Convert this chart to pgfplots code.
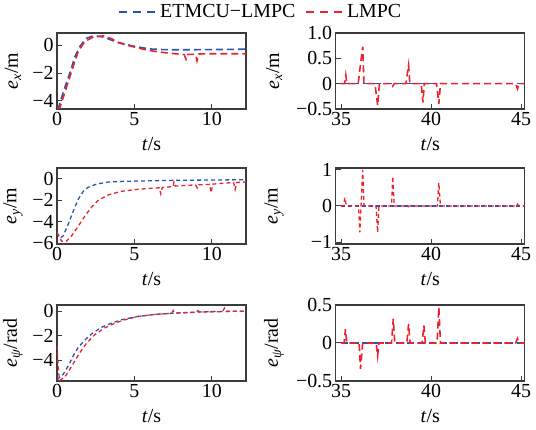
\documentclass[border=0pt]{standalone}
\usepackage{fontspec}
\setmainfont{Liberation Serif}
\usepackage{pgfplots}
\pgfplotsset{compat=1.18}
\definecolor{eblue}{RGB}{40,85,180}
\definecolor{lred}{RGB}{235,35,45}
\definecolor{framec}{RGB}{60,60,60}
\newcommand{\fs}{\rmfamily\fontsize{20}{23}\selectfont}
\pgfplotsset{
 myax/.style={scale only axis, width=189bp, height=76bp, anchor=south west,
   axis line style={framec, line width=1.2bp},
   tick style={framec, line width=1bp},
   tick align=inside, xtick pos=bottom, ytick pos=left, major tick length=5bp,
   tick label style={font=\fs},
   label style={font=\fs},
   xlabel={\textit{t}/s},
   xlabel style={at={(axis description cs:0.5,-0.46)}, anchor=center},
 },
 lcol/.style={ylabel style={at={(axis description cs:-0.233,0.5)}, anchor=center}, xmin=0, xmax=12.2, xtick={0,5,10}, xticklabels={0,5,10}},
 rcol/.style={ylabel style={at={(axis description cs:-0.326,0.5)}, anchor=center}, xmin=34.7, xmax=45.2, xtick={35,40,45}, xticklabels={35,40,45}},
 bl/.style={eblue, line width=1.6bp, dash pattern=on 7bp off 4bp},
 rd/.style={lred, line width=1.6bp, dash pattern=on 7bp off 4bp},
 bls/.style={eblue, line width=1.3bp, dash pattern=on 4bp off 3bp},
 rds/.style={lred, line width=1.3bp, dash pattern=on 4bp off 3bp},
}
\begin{document}
\begin{tikzpicture}
\useasboundingbox (0bp,0bp) rectangle (536bp,430bp);
% top-left
\begin{axis}[myax, lcol, at={(57bp,321bp)}, ymin=-4.6, ymax=0.9,
  ytick={-4,-2,0}, yticklabels={−4,−2,0},
  ylabel={\textit{e}\textsubscript{\textit{x}}/m},
  legend style={at={(axis description cs:1.079,1.276)}, anchor=center, draw=none, fill=none, font=\fs, legend columns=2, /tikz/every even column/.append style={column sep=8bp}},
  legend image code/.code={\draw[#1, dash pattern=on 8bp off 6bp] (0bp,0bp) -- (38bp,0bp);}]
\addplot[bl] coordinates {(0,-4.6) (0.1,-4.5) (0.4,-3.4) (0.83,-2.0) (1.16,-0.8) (1.48,-0.07) (1.9,0.52) (2.33,0.69) (2.87,0.64) (3.3,0.48) (3.73,0.29) (4.3,0.12) (4.8,-0.02) (5.4,-0.15) (6.08,-0.26) (6.8,-0.3) (7.4,-0.31) (8.9,-0.31) (10,-0.3) (12.2,-0.27)};
\addlegendentry{ETMCU−LMPC}
\addplot[rd] coordinates {(0,-4.6) (0.19,-4.5) (0.62,-3.0) (1.05,-1.5) (1.37,-0.43) (1.8,0.29) (2.33,0.6) (3.0,0.69) (3.5,0.5) (3.94,0.21) (4.5,0.02) (5.0,-0.12) (5.6,-0.28) (6.3,-0.43) (7.0,-0.53) (7.6,-0.6) (8.2,-0.65) (8.33,-1.0) (8.45,-0.65) (8.95,-0.65) (9.04,-1.12) (9.15,-0.62) (10,-0.6) (12.2,-0.6)};
\addlegendentry{LMPC}
\end{axis}
% top-right
\begin{axis}[myax, rcol, at={(335.7bp,321bp)}, ymin=-0.5, ymax=1.0,
  ytick={-0.5,0,0.5,1}, yticklabels={−0.5,0,0.5,1.0},
  ylabel={\textit{e}\textsubscript{\textit{x}}/m}]
\addplot[bl] coordinates {(35,0) (45.2,0)};
\addplot[rd] coordinates {(35,0) (35.2,0) (35.26,0.17) (35.33,0) (35.95,0) (36.05,0.3) (36.2,0.73) (36.27,0) (36.88,0) (37.03,-0.43) (37.13,0) (37.8,0) (37.87,-0.05) (37.95,0) (38.6,0) (38.75,0.37) (38.82,0) (39.45,0) (39.55,-0.37) (39.62,0) (40.3,0) (40.43,-0.4) (40.52,0) (44.7,0) (44.8,-0.1) (44.87,0) (45.2,0)};
\end{axis}
% middle-left
\begin{axis}[myax, lcol, at={(57bp,186bp)}, ymin=-6.05, ymax=1.0,
  ytick={-6,-4,-2,0}, yticklabels={−6,−4,−2,0},
  ylabel={\textit{e}\textsubscript{\textit{y}}/m}]
\addplot[bls] coordinates {(0,-5.0) (0.2,-5.5) (0.4,-5.3) (0.73,-4.2) (1.05,-3.0) (1.37,-1.9) (1.7,-1.16) (2.0,-0.8) (2.55,-0.49) (3.3,-0.3) (4.2,-0.24) (5.2,-0.21) (7.4,-0.15) (9.5,-0.12) (12.2,-0.09)};
\addplot[rds] coordinates {(0,-5.0) (0.3,-5.8) (0.6,-5.8) (0.94,-5.3) (1.37,-4.4) (1.8,-3.46) (2.23,-2.63) (2.66,-2.0) (3.3,-1.5) (4.15,-1.16) (5.2,-0.98) (6.3,-0.86) (6.6,-0.84) (6.7,-1.4) (6.8,-0.82) (7.4,-0.73) (7.5,-0.72) (7.55,-0.3) (7.65,-0.68) (8.4,-0.6) (8.95,-0.58) (9.05,-0.85) (9.15,-0.56) (9.85,-0.52) (9.95,-1.3) (10.05,-0.5) (10.6,-0.42) (11.4,-0.35) (11.5,-1.0) (11.6,-0.34) (12.2,-0.3)};
\end{axis}
% middle-right
\begin{axis}[myax, rcol, at={(335.7bp,186bp)}, ymin=-1.05, ymax=1.05,
  ytick={-1,0,1}, yticklabels={−1,0,1},
  ylabel={\textit{e}\textsubscript{\textit{y}}/m}]
\addplot[bls] coordinates {(35,0) (45.2,0)};
\addplot[rds] coordinates {(35,0) (35.15,0) (35.2,0.23) (35.3,0) (35.97,0) (36.04,-0.73) (36.2,1.0) (36.27,0) (36.94,0) (37.03,-0.73) (37.1,0) (37.8,0) (37.87,0.82) (37.95,0) (38.65,0) (38.7,-0.03) (38.78,0) (40.35,0) (40.43,0.64) (40.52,0) (44.75,0) (44.8,0.05) (44.87,0) (45.2,0)};
\end{axis}
% bottom-left
\begin{axis}[myax, lcol, at={(57bp,49bp)}, ymin=-5.7, ymax=0.5,
  ytick={-4,-2,0}, yticklabels={−4,−2,0},
  ylabel={\textit{e}\textsubscript{\textit{ψ}}/rad}]
\addplot[bls] coordinates {(0,-5.6) (0.4,-5.15) (0.73,-4.47) (1.05,-3.64) (1.37,-2.96) (1.8,-2.36) (2.23,-1.86) (2.87,-1.32) (3.5,-0.99) (4.15,-0.71) (5.2,-0.44) (6.3,-0.27) (7.6,-0.16) (9.5,-0.05) (12.2,0)};
\addplot[rds] coordinates {(0,-2.8) (0.1,-5.0) (0.18,-5.65) (0.51,-5.37) (0.83,-4.74) (1.16,-4.05) (1.48,-3.37) (1.9,-2.63) (2.44,-1.92) (3.08,-1.37) (3.73,-0.99) (4.37,-0.71) (5.2,-0.44) (6.3,-0.27) (7.4,-0.18) (7.5,0.05) (7.6,-0.16) (9.0,-0.1) (9.1,0.05) (9.2,-0.08) (10.7,-0.04) (10.8,0.25) (10.9,-0.02) (12.2,0)};
\end{axis}
% bottom-right
\begin{axis}[myax, rcol, at={(335.7bp,49bp)}, ymin=-0.5, ymax=0.5,
  ytick={-0.5,0,0.5}, yticklabels={−0.5,0,0.5},
  ylabel={\textit{e}\textsubscript{\textit{ψ}}/rad}]
\addplot[bl] coordinates {(35,0) (45.2,0)};
\addplot[rd] coordinates {(35,0) (35.17,0) (35.24,0.18) (35.32,0) (36.0,0) (36.08,-0.34) (36.2,0) (36.95,0) (37.03,-0.17) (37.1,0) (37.8,0) (37.9,0.32) (37.98,0) (38.65,0) (38.75,0.25) (38.83,0) (39.5,0) (39.6,0.23) (39.68,0) (40.33,0) (40.43,0.47) (40.52,0) (44.7,0) (44.8,0.06) (44.87,0) (45.2,0)};
\end{axis}
\end{tikzpicture}
\end{document}
